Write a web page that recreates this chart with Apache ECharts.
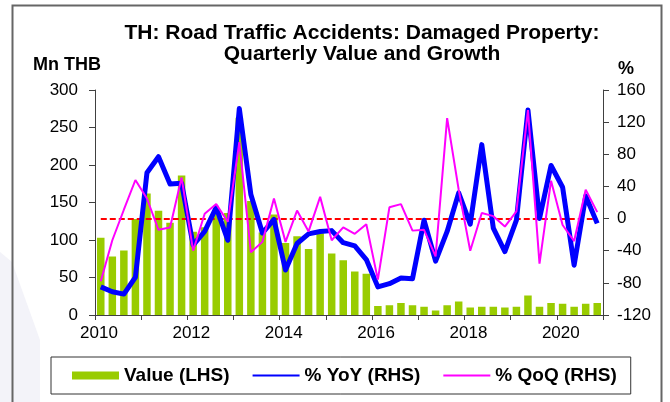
<!DOCTYPE html>
<html>
<head>
<meta charset="utf-8">
<script src="https://cdn.jsdelivr.net/npm/echarts@6/dist/echarts.min.js"></script>
<style>
html, body { margin: 0; padding: 0; background: #fff; }
#chart { width: 670px; height: 402px; }
</style>
</head>
<body>
<div id="chart"></div>
<script>
// quarters 2010Q1 .. 2020Q4
const quarters = [
    '2010Q1', '2010Q2', '2010Q3', '2010Q4', '2011Q1', '2011Q2', '2011Q3', '2011Q4',
    '2012Q1', '2012Q2', '2012Q3', '2012Q4', '2013Q1', '2013Q2', '2013Q3', '2013Q4',
    '2014Q1', '2014Q2', '2014Q3', '2014Q4', '2015Q1', '2015Q2', '2015Q3', '2015Q4',
    '2016Q1', '2016Q2', '2016Q3', '2016Q4', '2017Q1', '2017Q2', '2017Q3', '2017Q4',
    '2018Q1', '2018Q2', '2018Q3', '2018Q4', '2019Q1', '2019Q2', '2019Q3', '2019Q4',
    '2020Q1', '2020Q2', '2020Q3', '2020Q4'
];

// Mn THB (LHS)
const value = [
    103, 78, 86, 128, 162, 139, 123, 186,
    111, 117, 137, 136, 263, 152, 110, 134,
    96, 105, 88, 109, 82, 73, 58, 55,
    12, 13, 16, 13, 11, 6, 13, 18,
    10, 11, 11, 10, 11, 26, 11, 16,
    15, 11, 15, 16
];

// % YoY (RHS)
const yoy = [
    -85, -91, -94, -73, 57, 77, 43, 44,
    -33, -16, 14, -27, 137, 30, -18, -1,
    -64, -31, -19, -16, -15, -30, -34, -51,
    -85, -81, -74, -75, -2, -53, -16, 32,
    -7, 92, -12, -41, -2, 135, 0, 66,
    39, -58, 28, -6
];

// % QoQ (RHS)
const qoq = [
    -78, -27, 11, 48, 25, -14, -11, 51,
    -40, 6, 18, -4, 95, -42, -29, 25,
    -29, 10, -16, 27, -27, -11, -19, -7,
    -76, 14, 18, -15, -14, -47, 125, 36,
    -40, 7, 3, -10, 9, 135, -56, 47,
    -8, -28, 36, 8
];

const firstYear = 2010;
const font = 'Liberation Sans, Arial, sans-serif';

// place each quarter in the middle of its slot on a 0..n value axis
const at = (arr) => arr.map((v, i) => [i + 0.5, v]);

const chart = echarts.init(document.getElementById('chart'));

chart.setOption({
    animation: false,
    backgroundColor: '#fff',
    title: {
        text: 'TH: Road Traffic Accidents: Damaged Property:\nQuarterly Value and Growth',
        left: 357,
        top: 18,
        textAlign: 'center',
        textStyle: { fontFamily: font, fontSize: 21, fontWeight: 'bold', color: '#000', lineHeight: 21 }
    },
    graphic: [
        {
            type: 'polygon', z: -10, silent: true,
            shape: { points: [[0, 252], [12, 262], [40, 340], [40, 402], [0, 402]] },
            style: { fill: '#f3f3f9' }
        },
        {
            type: 'rect', silent: true,
            shape: { x: 12.5, y: 5.5, width: 649, height: 420 },
            style: { fill: null, stroke: '#666', lineWidth: 2 }
        },
        {
            type: 'text', left: 33, top: 56,
            style: { text: 'Mn THB', font: 'bold 18px ' + font, fill: '#000' }
        },
        {
            type: 'text', left: 618, top: 60,
            style: { text: '%', font: 'bold 18px ' + font, fill: '#000' }
        }
    ],
    grid: { left: 95, right: 67, top: 90, bottom: 87, containLabel: false },
    legend: {
        left: 51,
        top: 357,
        padding: [9, 14, 9, 21],
        borderColor: '#333',
        borderWidth: 1,
        itemWidth: 47,
        itemHeight: 8,
        itemGap: 22,
        textStyle: { fontFamily: font, fontSize: 19, fontWeight: 'bold', color: '#000' },
        data: [
            { name: 'Value (LHS)', icon: 'rect' },
            { name: '% YoY (RHS)', itemStyle: { opacity: 0 } },
            { name: '% QoQ (RHS)', itemStyle: { opacity: 0 } }
        ]
    },
    xAxis: {
        type: 'value',
        min: 0,
        max: quarters.length,
        interval: 4,
        splitLine: { show: false },
        axisLine: { onZero: false, lineStyle: { color: '#404040', width: 1 } },
        axisTick: { show: true, length: 5, lineStyle: { color: '#404040' } },
        axisLabel: {
            margin: 10,
            padding: [0, 0, 0, 8],
            fontFamily: font,
            fontSize: 17,
            color: '#000',
            formatter: (v) => (v % 8 === 0 ? String(firstYear + v / 4) : '')
        }
    },
    yAxis: [
        {
            type: 'value',
            min: 0,
            max: 300,
            interval: 50,
            position: 'left',
            splitLine: { show: false },
            axisLine: { show: true, lineStyle: { color: '#404040' } },
            axisTick: { show: true, length: 6, lineStyle: { color: '#404040' } },
            axisLabel: { margin: 17, fontFamily: font, fontSize: 17, color: '#000' }
        },
        {
            type: 'value',
            min: -120,
            max: 160,
            interval: 40,
            position: 'right',
            splitLine: { show: false },
            axisLine: { show: true, onZero: false, lineStyle: { color: '#404040' } },
            axisTick: { show: true, length: 6, lineStyle: { color: '#404040' } },
            axisLabel: { margin: 14, fontFamily: font, fontSize: 17, color: '#000' }
        }
    ],
    series: [
        {
            name: 'Value (LHS)',
            type: 'bar',
            yAxisIndex: 0,
            barWidth: 7.5,
            itemStyle: { color: '#99cc00' },
            data: at(value),
            z: 1
        },
        {
            name: '% YoY (RHS)',
            type: 'line',
            yAxisIndex: 1,
            symbol: 'none',
            lineStyle: { color: '#0000ff', width: 5, join: 'round' },
            itemStyle: { color: '#0000ff' },
            data: at(yoy),
            z: 3,
            markLine: {
                silent: true,
                symbol: 'none',
                label: { show: false },
                lineStyle: { color: '#ff0000', width: 2, type: [6, 3] },
                data: [[{ coord: [0.5, 0] }, { coord: [quarters.length - 0.5, 0] }]],
                z: 2
            }
        },
        {
            name: '% QoQ (RHS)',
            type: 'line',
            yAxisIndex: 1,
            symbol: 'none',
            lineStyle: { color: '#ff00ff', width: 2 },
            itemStyle: { color: '#ff00ff' },
            data: at(qoq),
            z: 4
        }
    ]
});
</script>
</body>
</html>
